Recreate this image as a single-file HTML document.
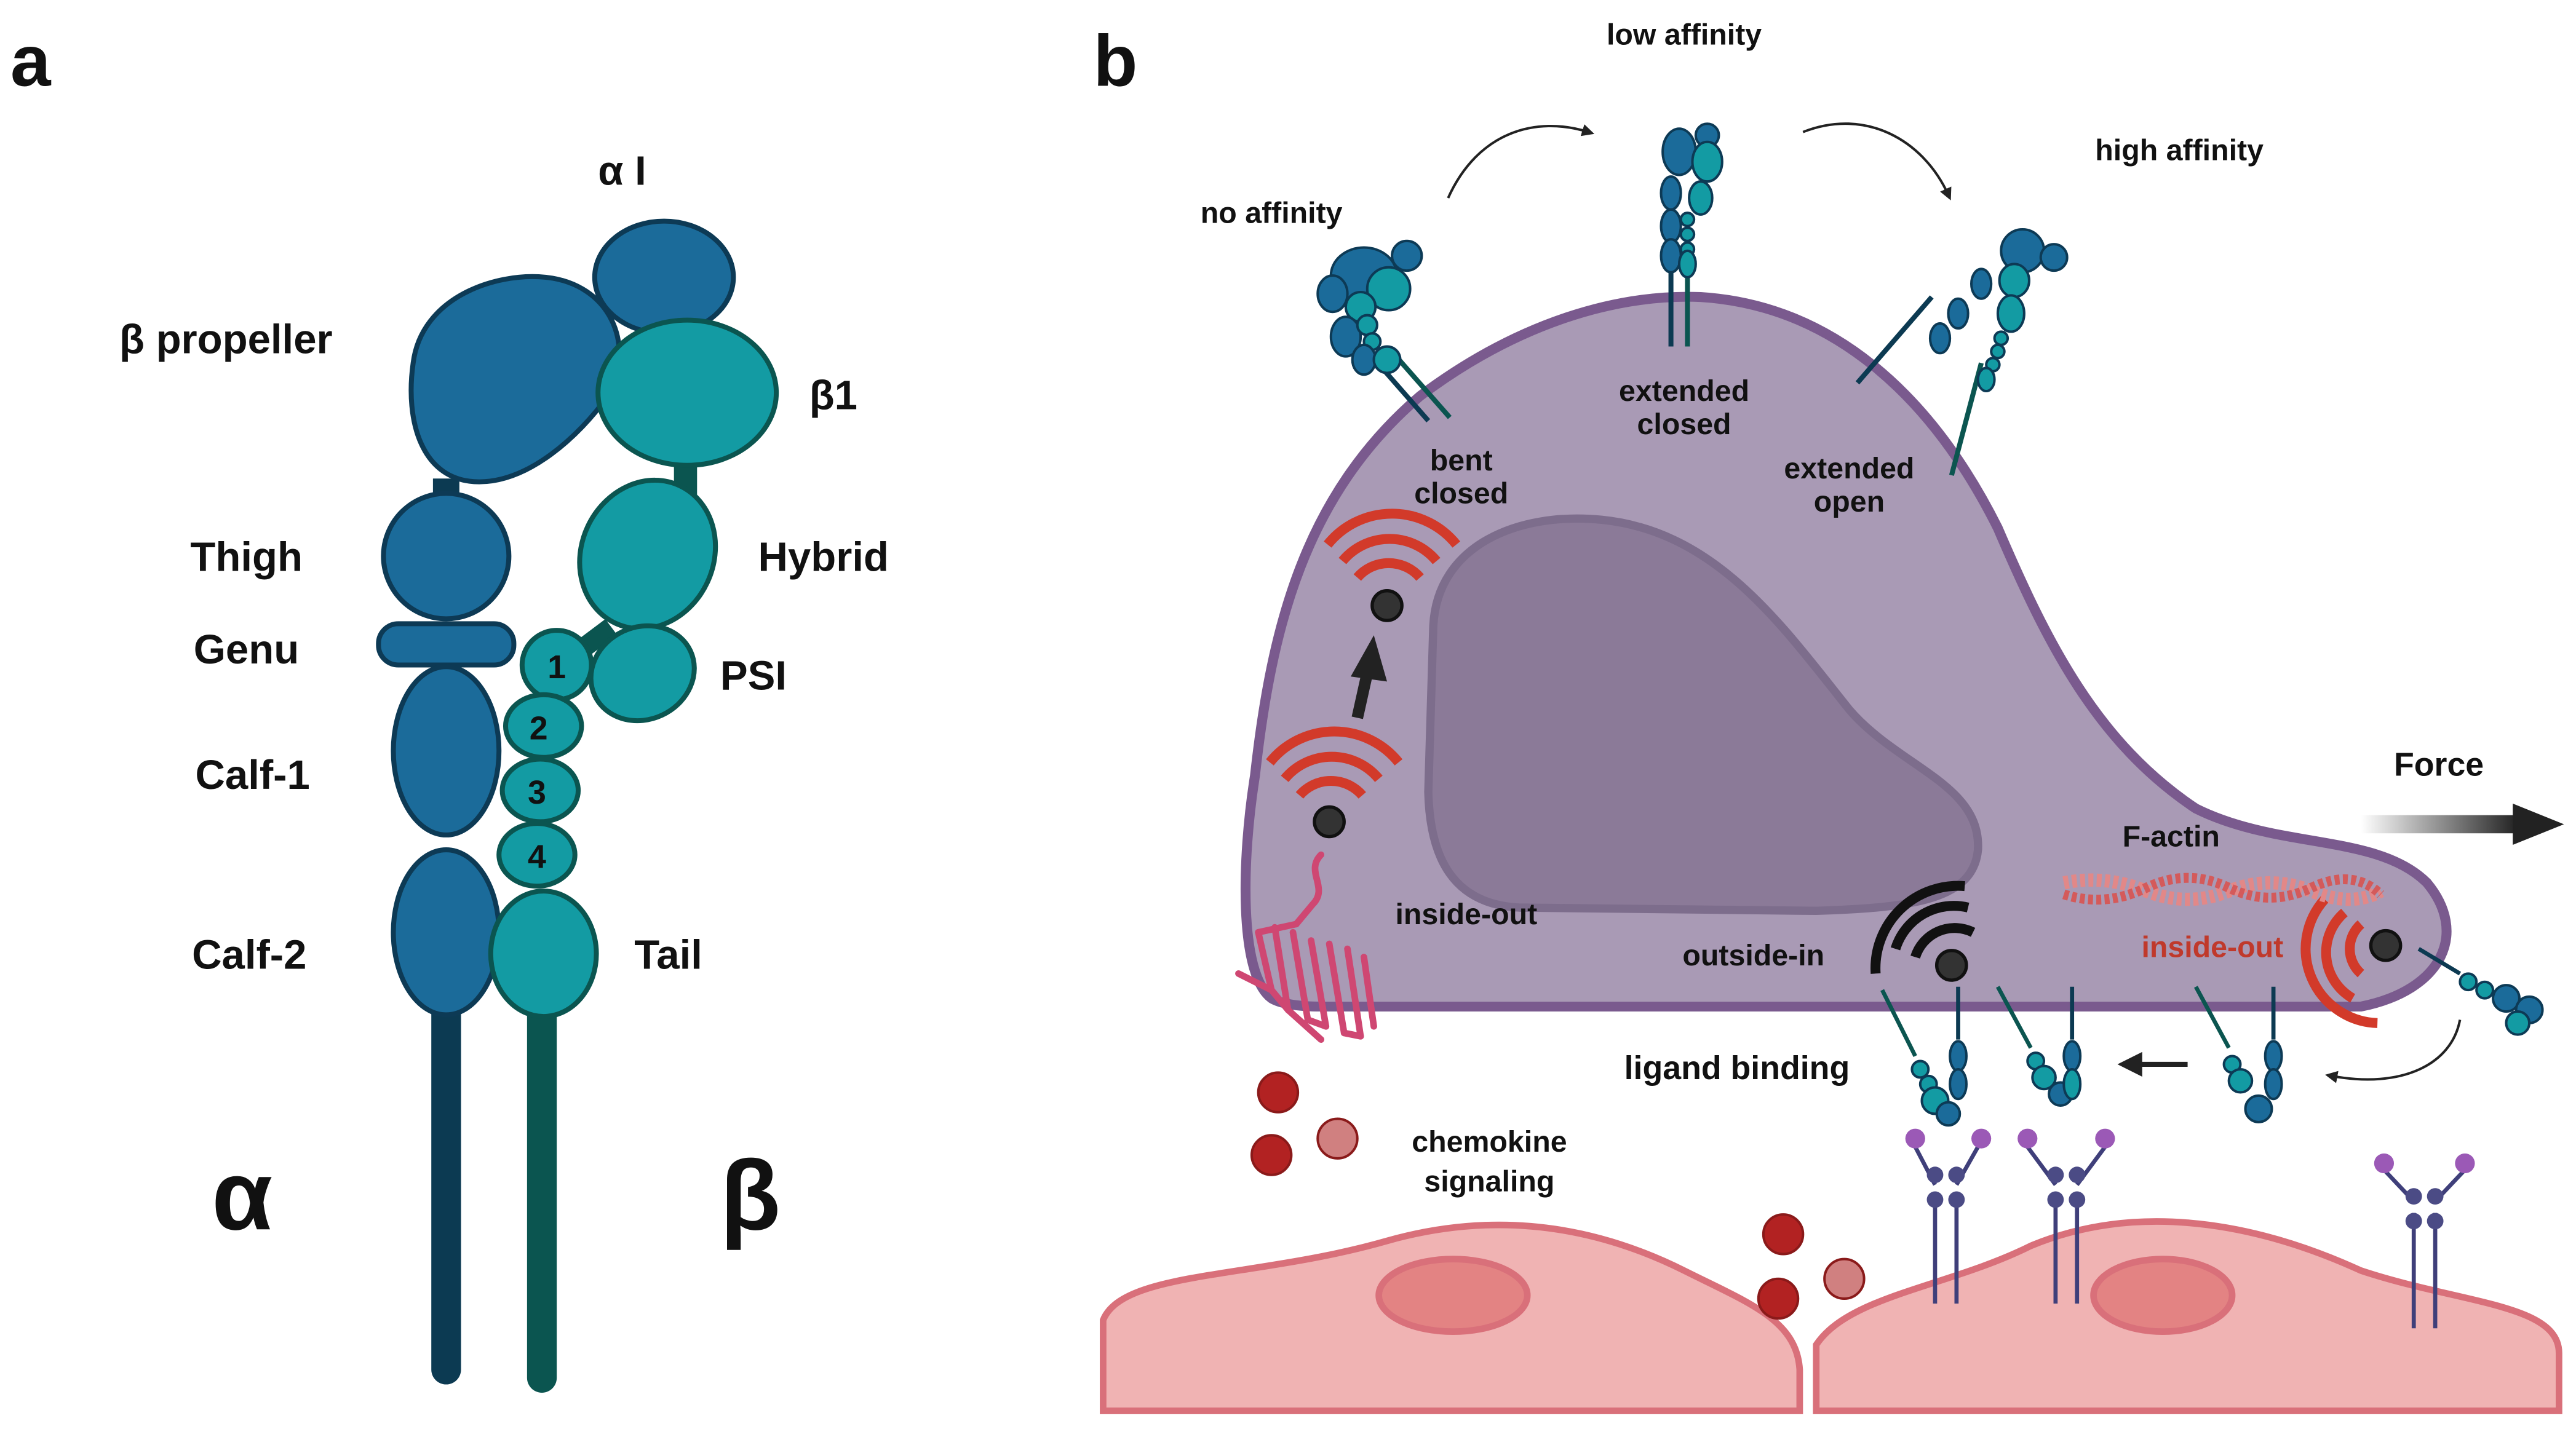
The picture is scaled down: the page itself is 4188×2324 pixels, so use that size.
<!DOCTYPE html>
<html><head><meta charset="utf-8"><style>
html,body{margin:0;padding:0;background:#fff;width:4188px;height:2324px;overflow:hidden}
svg{display:block}
text{font-family:"Liberation Sans",sans-serif;font-weight:bold;fill:#111}
</style></head><body>
<svg width="4188" height="2324" viewBox="0 0 1560 866" xmlns="http://www.w3.org/2000/svg">
<defs>
<linearGradient id="fg" x1="0" x2="1"><stop offset="0" stop-color="#222" stop-opacity="0"/><stop offset="1" stop-color="#222"/></linearGradient>
<marker id="ah" viewBox="0 0 10 10" refX="5" refY="5" markerWidth="5" markerHeight="5" orient="auto"><path d="M0,0L10,5L0,10z" fill="#222"/></marker>
</defs>
<!-- Panel a -->
<text x="6" y="52" font-size="44">a</text>
<g stroke="#0d3a55" stroke-width="3" fill="#1b6b9a">
<line x1="270" y1="290" x2="270" y2="310" stroke="#0c3a52" stroke-width="16"/>
<line x1="415" y1="280" x2="415" y2="300" stroke="#0b5550" stroke-width="14"/>
<line x1="370" y1="380" x2="350" y2="395" stroke="#0b5550" stroke-width="12"/>
<line x1="270" y1="610" x2="270" y2="830" stroke="#0c3a52" stroke-width="18" stroke-linecap="round"/>
<line x1="328" y1="610" x2="328" y2="835" stroke="#0b5550" stroke-width="18" stroke-linecap="round"/>
<ellipse cx="402" cy="168" rx="42" ry="34"/>
<path d="M250,220 C255,180 300,165 330,168 C370,172 385,210 368,240 C350,265 320,292 290,292 C255,292 245,255 250,220z"/>
<circle cx="270" cy="337" r="38"/>
<rect x="229" y="378" width="82" height="25" rx="12"/>
<ellipse cx="270" cy="455" rx="32" ry="51"/>
<ellipse cx="270" cy="565" rx="32" ry="50"/>
<g fill="#139ba3" stroke="#0b5550">
<ellipse cx="416" cy="238" rx="54" ry="44"/>
<ellipse cx="392" cy="336" rx="40" ry="46" transform="rotate(25 392 336)"/>
<ellipse cx="389" cy="408" rx="32" ry="28" transform="rotate(-25 389 408)"/>
<circle cx="337" cy="403" r="21"/>
<ellipse cx="329" cy="440" rx="23" ry="19"/>
<ellipse cx="327" cy="479" rx="23" ry="19"/>
<ellipse cx="325" cy="518" rx="23" ry="19"/>
<ellipse cx="329" cy="578" rx="32" ry="38"/>
</g></g>
<g font-size="20" text-anchor="middle"><text x="337" y="411">1</text><text x="326" y="448">2</text><text x="325" y="487">3</text><text x="325" y="526">4</text></g>
<g font-size="25">
<text x="362" y="112">α I</text><text x="72" y="214">β propeller</text><text x="490" y="248">β1</text>
<text x="115" y="346">Thigh</text><text x="459" y="346">Hybrid</text><text x="117" y="402">Genu</text>
<text x="436" y="418">PSI</text><text x="118" y="478">Calf-1</text><text x="116" y="587">Calf-2</text><text x="384" y="587">Tail</text>
</g>
<text x="128" y="745" font-size="60">α</text><text x="436" y="745" font-size="60">β</text>
<!-- Panel b -->
<text x="662" y="52" font-size="44">b</text>
<g fill="#f0b3b3" stroke="#d9707a" stroke-width="4">
<path d="M668,855 L668,800 C680,770 760,775 840,752 C900,735 960,740 1020,770 C1060,790 1088,800 1090,830 L1090,855z"/>
<path d="M1100,855 L1100,815 C1120,785 1180,780 1230,755 C1290,730 1360,738 1430,770 C1490,790 1550,790 1550,820 L1550,855z"/>
<ellipse cx="880" cy="785" rx="45" ry="22" fill="#e38383"/>
<ellipse cx="1310" cy="785" rx="42" ry="22" fill="#e38383"/>
</g>
<path d="M770,605 C750,590 752,520 760,470 C770,380 790,300 860,240 C920,195 980,178 1030,180 C1110,185 1170,240 1210,320 C1240,390 1270,450 1330,490 C1380,515 1440,505 1470,535 C1495,565 1480,600 1430,610 L800,610 C785,610 775,608 770,605z" fill="#a99ab5" stroke="#7a5a8e" stroke-width="6"/>
<path d="M868,380 C870,330 920,310 970,315 C1040,322 1080,380 1120,430 C1150,465 1200,475 1198,515 C1195,545 1160,550 1100,552 L920,550 C880,548 866,520 865,480z" fill="#8b7a98" stroke="#7d6d8c" stroke-width="5"/>
<path d="M877,120 C895,80 930,70 962,80" fill="none" stroke="#222" stroke-width="1.5" marker-end="url(#ah)"/>
<path d="M1092,80 C1130,65 1165,85 1180,118" fill="none" stroke="#222" stroke-width="1.5" marker-end="url(#ah)"/>
<g stroke="#0d3a55" stroke-width="1.5">
<line x1="830" y1="215" x2="865" y2="255" stroke="#0c3a52" stroke-width="3"/>
<line x1="842" y1="212" x2="878" y2="253" stroke="#0b5550" stroke-width="3"/>
<ellipse cx="826" cy="167" rx="20" ry="17" fill="#1b6b9a"/><circle cx="852" cy="155" r="9" fill="#1b6b9a"/>
<circle cx="841" cy="175" r="13" fill="#139ba3"/><ellipse cx="807" cy="178" rx="9" ry="11" fill="#1b6b9a"/>
<circle cx="824" cy="186" r="9" fill="#139ba3"/><ellipse cx="815" cy="204" rx="9" ry="12" fill="#1b6b9a"/>
<circle cx="828" cy="197" r="6" fill="#139ba3"/><circle cx="831" cy="207" r="5" fill="#139ba3"/><ellipse cx="826" cy="218" rx="7" ry="9" fill="#1b6b9a"/><circle cx="840" cy="218" r="8" fill="#139ba3"/>
<line x1="1012" y1="150" x2="1012" y2="210" stroke="#0c3a52" stroke-width="3"/>
<line x1="1022" y1="150" x2="1022" y2="210" stroke="#0b5550" stroke-width="3"/>
<ellipse cx="1017" cy="92" rx="10" ry="14" fill="#1b6b9a"/><circle cx="1034" cy="82" r="7" fill="#1b6b9a"/><ellipse cx="1034" cy="98" rx="9" ry="12" fill="#139ba3"/>
<ellipse cx="1012" cy="117" rx="6" ry="10" fill="#1b6b9a"/><ellipse cx="1030" cy="120" rx="7" ry="10" fill="#139ba3"/>
<ellipse cx="1012" cy="137" rx="6" ry="10" fill="#1b6b9a"/><ellipse cx="1012" cy="155" rx="6" ry="10" fill="#1b6b9a"/>
<circle cx="1022" cy="133" r="4" fill="#139ba3"/><circle cx="1022" cy="142" r="4" fill="#139ba3"/><circle cx="1022" cy="151" r="4" fill="#139ba3"/><ellipse cx="1022" cy="160" rx="5" ry="8" fill="#139ba3"/>
<line x1="1125" y1="232" x2="1170" y2="180" stroke="#0c3a52" stroke-width="3"/>
<line x1="1182" y1="288" x2="1200" y2="220" stroke="#0b5550" stroke-width="3"/>
<circle cx="1225" cy="152" r="13" fill="#1b6b9a"/><circle cx="1244" cy="156" r="8" fill="#1b6b9a"/>
<ellipse cx="1220" cy="170" rx="9" ry="10" fill="#139ba3"/><ellipse cx="1218" cy="190" rx="8" ry="11" fill="#139ba3"/>
<ellipse cx="1200" cy="172" rx="6" ry="9" fill="#1b6b9a"/><ellipse cx="1186" cy="190" rx="6" ry="9" fill="#1b6b9a"/><ellipse cx="1175" cy="205" rx="6" ry="9" fill="#1b6b9a"/>
<circle cx="1212" cy="205" r="4" fill="#139ba3"/><circle cx="1210" cy="213" r="4" fill="#139ba3"/><circle cx="1207" cy="221" r="4" fill="#139ba3"/><ellipse cx="1203" cy="230" rx="5" ry="7" fill="#139ba3"/>
</g>
<g font-size="18" text-anchor="middle">
<text x="1020" y="27">low affinity</text><text x="1320" y="97">high affinity</text><text x="770" y="135">no affinity</text>
<text x="885" y="285">bent</text><text x="885" y="305">closed</text>
<text x="1020" y="243">extended</text><text x="1020" y="263">closed</text>
<text x="1120" y="290">extended</text><text x="1120" y="310">open</text>
<text x="888" y="560">inside-out</text><text x="1062" y="585">outside-in</text>
<text x="1315" y="513">F-actin</text><text x="1340" y="580" style="fill:#c0392b">inside-out</text>
<text x="1052" y="654" font-size="20">ligand binding</text>
<text x="902" y="698">chemokine</text><text x="902" y="722">signaling</text>
</g>
<text x="1450" y="470" font-size="20">Force</text>
<rect x="1430" y="494" width="95" height="11" fill="url(#fg)"/>
<path d="M1522,487 L1553,499.5 L1522,512z" fill="#222"/>
<g fill="none" stroke="#d23a2a" stroke-width="6" stroke-linecap="butt">
<path d="M822,350 A25,25 0 0 1 860,350"/><path d="M813,340 A37,37 0 0 1 870,340"/><path d="M804,330 A50,50 0 0 1 882,330"/>
<path d="M787,482 A25,25 0 0 1 825,482"/><path d="M778,472 A37,37 0 0 1 835,472"/><path d="M769,462 A50,50 0 0 1 847,462"/>
<path d="M1430,560 A20,20 0 0 0 1430,590"/><path d="M1420,553 A32,32 0 0 0 1425,605"/><path d="M1408,545 A45,45 0 0 0 1440,620"/>
</g>
<g fill="none" stroke="#111" stroke-width="6"><path d="M1160,580 A25,25 0 0 1 1195,565"/><path d="M1148,575 A37,37 0 0 1 1192,550"/><path d="M1136,590 A50,50 0 0 1 1190,537"/></g>
<circle cx="840" cy="367" r="9" fill="#333" stroke="#111" stroke-width="2"/>
<circle cx="805" cy="498" r="9" fill="#333" stroke="#111" stroke-width="2"/>
<circle cx="1182" cy="585" r="9" fill="#333" stroke="#111" stroke-width="2"/>
<circle cx="1445" cy="573" r="9" fill="#333" stroke="#111" stroke-width="2"/>
<line x1="822" y1="435" x2="828" y2="408" stroke="#222" stroke-width="7"/><path d="M818,410 L832,385 L840,413z" fill="#222"/>
<g>
<path d="M1250,535 Q1275,530 1300,540 T1350,540 T1400,540 T1442,540" fill="none" stroke="#e28888" stroke-width="8" stroke-dasharray="3 2"/>
<path d="M1250,542 Q1275,550 1300,538 T1350,538 T1400,538 T1442,542" fill="none" stroke="#d45a5a" stroke-width="6" stroke-dasharray="3 2"/>
</g>
<g fill="none" stroke="#cf4772" stroke-width="4" stroke-linecap="round">
<path d="M800,518 C790,528 805,538 795,548 L785,560"/>
<path d="M762,565 L770,600 M772,562 L780,612 M783,565 L792,618 M794,570 L803,622 M805,572 L814,626 M816,575 L824,628 M826,580 L832,622"/>
<path d="M762,565 L785,560 M770,600 L780,612 M792,618 L803,622 M814,626 L824,628 M750,590 L770,600 M780,612 L800,630"/>
</g>
<g stroke="#0d3a55" stroke-width="1.5">
<line x1="1140" y1="600" x2="1160" y2="640" stroke="#0b5550" stroke-width="2.5"/>
<line x1="1186" y1="598" x2="1186" y2="630" stroke="#0c3a52" stroke-width="2.5"/>
<circle cx="1163" cy="648" r="5" fill="#139ba3"/><circle cx="1168" cy="657" r="5" fill="#139ba3"/><circle cx="1172" cy="667" r="8" fill="#139ba3"/><circle cx="1180" cy="675" r="7" fill="#1b6b9a"/>
<ellipse cx="1186" cy="640" rx="5" ry="9" fill="#1b6b9a"/><ellipse cx="1186" cy="657" rx="5" ry="9" fill="#1b6b9a"/>
<line x1="1210" y1="598" x2="1230" y2="635" stroke="#0b5550" stroke-width="2.5"/>
<line x1="1255" y1="598" x2="1255" y2="630" stroke="#0c3a52" stroke-width="2.5"/>
<circle cx="1233" cy="643" r="5" fill="#139ba3"/><circle cx="1238" cy="653" r="7" fill="#139ba3"/><circle cx="1248" cy="663" r="7" fill="#1b6b9a"/>
<ellipse cx="1255" cy="640" rx="5" ry="9" fill="#1b6b9a"/><ellipse cx="1255" cy="657" rx="5" ry="9" fill="#139ba3"/>
<line x1="1330" y1="598" x2="1350" y2="635" stroke="#0b5550" stroke-width="2.5"/>
<line x1="1377" y1="598" x2="1377" y2="630" stroke="#0c3a52" stroke-width="2.5"/>
<circle cx="1352" cy="645" r="5" fill="#139ba3"/><circle cx="1357" cy="655" r="7" fill="#139ba3"/><circle cx="1368" cy="672" r="8" fill="#1b6b9a"/>
<ellipse cx="1377" cy="640" rx="5" ry="9" fill="#1b6b9a"/><ellipse cx="1377" cy="657" rx="5" ry="9" fill="#1b6b9a"/>
<line x1="1465" y1="575" x2="1490" y2="590" stroke="#0c3a52" stroke-width="2.5"/>
<circle cx="1495" cy="595" r="5" fill="#139ba3"/><circle cx="1505" cy="600" r="5" fill="#139ba3"/><circle cx="1518" cy="605" r="8" fill="#1b6b9a"/><circle cx="1532" cy="612" r="8" fill="#1b6b9a"/><circle cx="1525" cy="620" r="7" fill="#139ba3"/>
</g>
<path d="M1325,645 L1290,645" stroke="#222" stroke-width="3" marker-end="url(#ah)"/>
<path d="M1490,618 C1485,645 1455,660 1412,652" fill="none" stroke="#222" stroke-width="1.5" marker-end="url(#ah)"/>
<g stroke="#3f3f7a" stroke-width="2.5" fill="none">
<path d="M1172,725 L1172,790 M1185,725 L1185,790 M1245,725 L1245,790 M1258,725 L1258,790 M1462,735 L1462,805 M1475,735 L1475,805"/>
<path d="M1160,695 L1172,718 M1198,695 L1185,718 M1228,695 L1245,718 M1275,695 L1258,718 M1445,710 L1462,728 M1492,710 L1475,728"/>
</g>
<g fill="#4b4b85"><circle cx="1172" cy="712" r="5"/><circle cx="1185" cy="712" r="5"/><circle cx="1172" cy="727" r="5"/><circle cx="1185" cy="727" r="5"/>
<circle cx="1245" cy="712" r="5"/><circle cx="1258" cy="712" r="5"/><circle cx="1245" cy="727" r="5"/><circle cx="1258" cy="727" r="5"/>
<circle cx="1462" cy="725" r="5"/><circle cx="1475" cy="725" r="5"/><circle cx="1462" cy="740" r="5"/><circle cx="1475" cy="740" r="5"/></g>
<g fill="#9b59b6"><circle cx="1160" cy="690" r="6"/><circle cx="1200" cy="690" r="6"/><circle cx="1228" cy="690" r="6"/><circle cx="1275" cy="690" r="6"/><circle cx="1444" cy="705" r="6"/><circle cx="1493" cy="705" r="6"/></g>
<g stroke="#8a1a1a" stroke-width="1.5">
<circle cx="774" cy="662" r="12" fill="#b22222"/><circle cx="770" cy="700" r="12" fill="#b22222"/><circle cx="810" cy="690" r="12" fill="#d08080"/>
<circle cx="1080" cy="748" r="12" fill="#b22222"/><circle cx="1077" cy="787" r="12" fill="#b22222"/><circle cx="1117" cy="775" r="12" fill="#d08080"/>
</g>
</svg>
</body></html>
